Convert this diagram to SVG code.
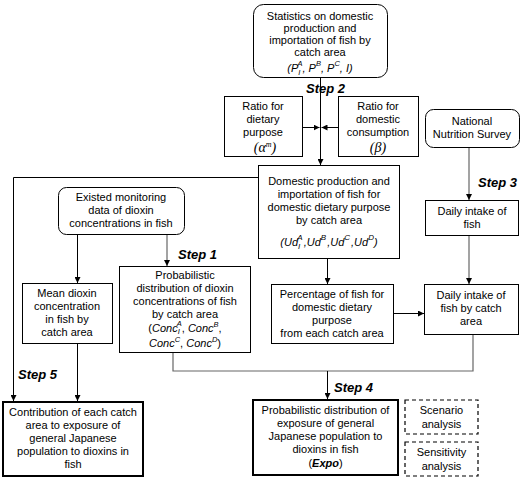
<svg xmlns="http://www.w3.org/2000/svg" width="523" height="478" viewBox="0 0 523 478">
<style>
text{font-family:"Liberation Sans",Arial,sans-serif;font-size:11px;fill:#000;text-anchor:middle}
.box{fill:#fff;stroke:#000;stroke-width:1}
.thick{fill:#fff;stroke:#000;stroke-width:2}
.dash{fill:#fff;stroke:#000;stroke-width:1.2;stroke-dasharray:4,3}
.ln{fill:none;stroke:#000;stroke-width:1}
.gl{fill:none;stroke:#666;stroke-width:1.2}
.step{font-weight:bold;font-style:italic;font-size:13px;text-anchor:start}
.it{font-style:italic}
.sup{font-size:7.5px}
.gr{font-family:"Liberation Serif",serif;font-style:italic;font-size:14px}
</style>
<defs>
<marker id="ah" viewBox="0 0 10 10" refX="10" refY="5" markerWidth="6" markerHeight="6" markerUnits="userSpaceOnUse" orient="auto">
<path d="M0,0 L10,5 L0,10 z" fill="#000"/>
</marker>
</defs>
<g id="connectors">
<path class="ln" d="M320.5,77 V165" marker-end="url(#ah)"/>
<path class="ln" d="M302,127.5 H319.5" marker-end="url(#ah)"/>
<path class="ln" d="M338,127.5 H321.5" marker-end="url(#ah)"/>
<path class="ln" d="M258,177.5 H13.5 V401" marker-end="url(#ah)"/>
<path class="ln" d="M327.5,258 V284" marker-end="url(#ah)"/>
<path class="gl" d="M469,147 V200" marker-end="url(#ah)"/>
<path class="gl" d="M469,235 V284" marker-end="url(#ah)"/>
<path class="ln" d="M393,313.5 H424" marker-end="url(#ah)"/>
<path class="ln" d="M77.5,234 V283" marker-end="url(#ah)"/>
<path class="gl" d="M167,234 V266" marker-end="url(#ah)"/>
<path class="ln" d="M77.5,343 V401" marker-end="url(#ah)"/>
<path class="gl" d="M173,352 V371 H473 V334"/>
<path class="ln" d="M327.5,371 V399" marker-end="url(#ah)"/>
</g>
<g id="stats">
<rect class="box" x="253.5" y="4.5" width="134" height="73" rx="10"/>
<text x="320" y="20">Statistics on domestic</text>
<text x="320" y="32">production and</text>
<text x="320" y="44">importation of fish by</text>
<text x="320" y="56">catch area</text>
<text x="320" y="72" font-size="13.5" class="it">(P<tspan class="sup" dy="3">I</tspan><tspan class="sup" dx="-3" dy="-9">A</tspan><tspan dy="6">, P</tspan><tspan class="sup" dy="-6">B</tspan><tspan dy="6">, P</tspan><tspan class="sup" dy="-6">C</tspan><tspan dy="6">, I)</tspan></text>
</g>
<text class="step" x="306" y="93">Step 2</text>
<g id="dietary">
<rect class="box" x="224.5" y="96.5" width="78" height="60"/>
<text x="263" y="110">Ratio for</text>
<text x="263" y="123">dietary</text>
<text x="263" y="136">purpose</text>
<text x="265" y="152" class="gr">(α<tspan font-size="8" dy="-5">m</tspan><tspan dy="5">)</tspan></text>
</g>
<g id="consumption">
<rect class="box" x="338.5" y="96.5" width="80" height="60"/>
<text x="378" y="110">Ratio for</text>
<text x="378" y="123">domestic</text>
<text x="378" y="136">consumption</text>
<text x="378" y="152" class="gr">(β)</text>
</g>
<g id="nns">
<rect class="box" x="425.5" y="109.5" width="94" height="38" rx="8"/>
<text x="472" y="125">National</text>
<text x="472" y="138">Nutrition Survey</text>
</g>
<text class="step" x="478" y="187">Step 3</text>
<g id="daily">
<rect class="box" x="425.5" y="200.5" width="93" height="35"/>
<text x="472" y="215">Daily intake of</text>
<text x="472" y="228">fish</text>
</g>
<g id="domestic">
<rect class="box" x="258.5" y="165.5" width="141" height="93"/>
<text x="329" y="185">Domestic production and</text>
<text x="329" y="198">importation of fish for</text>
<text x="329" y="211">domestic dietary purpose</text>
<text x="329" y="224">by catch area</text>
<text x="329" y="246" font-size="13" class="it">(Ud<tspan font-size="8" dy="3">I</tspan><tspan font-size="8" dx="-3" dy="-9">A</tspan><tspan dx="1" dy="6">,Ud</tspan><tspan font-size="8" dy="-6">B</tspan><tspan dx="1" dy="6">,Ud</tspan><tspan font-size="8" dy="-6">C</tspan><tspan dx="1" dy="6">,Ud</tspan><tspan font-size="8" dy="-6">D</tspan><tspan dy="6">)</tspan></text>
</g>
<g id="existed">
<rect class="box" x="58.5" y="187.5" width="126" height="47" rx="8"/>
<text x="121" y="201">Existed monitoring</text>
<text x="121" y="214">data of dioxin</text>
<text x="121" y="227">concentrations in fish</text>
</g>
<text class="step" x="178" y="259">Step 1</text>
<g id="mean">
<rect class="box" x="22.5" y="283.5" width="90" height="60"/>
<text x="67" y="297">Mean dioxin</text>
<text x="67" y="310">concentration</text>
<text x="67" y="323">in fish by</text>
<text x="67" y="336">catch area</text>
</g>
<g id="conc">
<rect class="box" x="119.5" y="266.5" width="131" height="86"/>
<text x="185" y="279">Probabilistic</text>
<text x="185" y="292">distribution of dioxin</text>
<text x="185" y="305">concentrations of fish</text>
<text x="185" y="318">by catch area</text>
<text x="185" y="332"><tspan>(</tspan><tspan class="it">Conc</tspan><tspan class="sup it" dy="2">I</tspan><tspan class="sup it" dx="-3" dy="-8">A</tspan><tspan dy="6">, </tspan><tspan class="it">Conc</tspan><tspan class="sup it" dy="-5">B</tspan><tspan dy="5">,</tspan></text>
<text x="185" y="347"><tspan class="it">Conc</tspan><tspan class="sup it" dy="-5">C</tspan><tspan dy="5">, </tspan><tspan class="it">Conc</tspan><tspan class="sup it" dy="-5">D</tspan><tspan dy="5">)</tspan></text>
</g>
<g id="percentage">
<rect class="box" x="271.5" y="284.5" width="122" height="59"/>
<text x="332" y="298">Percentage of fish for</text>
<text x="332" y="311">domestic dietary</text>
<text x="332" y="324">purpose</text>
<text x="332" y="337">from each catch area</text>
</g>
<g id="dailycatch">
<rect class="box" x="424.5" y="284.5" width="94" height="50"/>
<text x="471" y="299">Daily intake of</text>
<text x="471" y="312">fish by catch</text>
<text x="471" y="325">area</text>
</g>
<text class="step" x="18" y="379">Step 5</text>
<text class="step" x="334" y="392">Step 4</text>
<g id="contribution">
<rect class="thick" x="3" y="402" width="140" height="74"/>
<text x="73" y="416">Contribution of each catch</text>
<text x="73" y="429">area to exposure of</text>
<text x="73" y="442">general Japanese</text>
<text x="73" y="455">population to dioxins in</text>
<text x="73" y="468">fish</text>
</g>
<g id="expo">
<rect class="thick" x="253" y="400" width="145" height="75"/>
<text x="325.5" y="414">Probabilistic distribution of</text>
<text x="325.5" y="427">exposure of general</text>
<text x="325.5" y="440">Japanese population to</text>
<text x="325.5" y="453">dioxins in fish</text>
<text x="325.5" y="467">(<tspan font-weight="bold" font-style="italic">Expo</tspan>)</text>
</g>
<g id="scenario">
<rect class="dash" x="405" y="400" width="73" height="34"/>
<text x="441.5" y="414">Scenario</text>
<text x="441.5" y="428">analysis</text>
</g>
<g id="sensitivity">
<rect class="dash" x="405" y="442" width="73" height="34"/>
<text x="441.5" y="456">Sensitivity</text>
<text x="441.5" y="470">analysis</text>
</g>
</svg>
